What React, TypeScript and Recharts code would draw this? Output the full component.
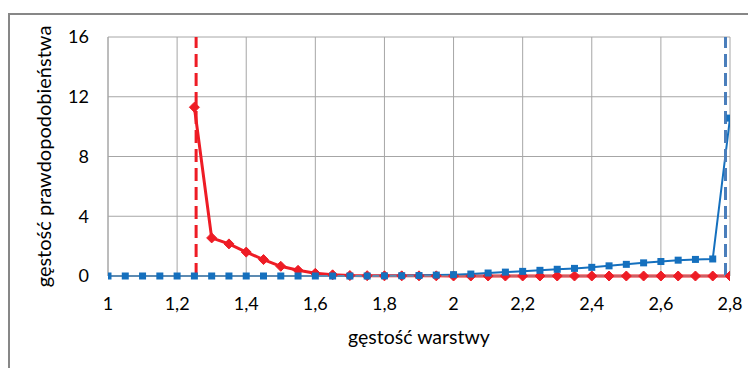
import React from 'react';
import { LineChart, Line, XAxis, YAxis, CartesianGrid, ReferenceLine, Label } from 'recharts';

const xValues = [1, 1.05, 1.1, 1.15, 1.2, 1.25, 1.3, 1.35, 1.4, 1.45, 1.5, 1.55, 1.6, 1.65, 1.7, 1.75, 1.8, 1.85, 1.9, 1.95, 2, 2.05, 2.1, 2.15, 2.2, 2.25, 2.3, 2.35, 2.4, 2.45, 2.5, 2.55, 2.6, 2.65, 2.7, 2.75, 2.8];
const redValues: (number | null)[] = [null, null, null, null, null, 11.3, 2.55, 2.15, 1.6, 1.1, 0.65, 0.38, 0.18, 0.08, 0.03, 0.02, 0.01, 0.01, 0.01, 0.01, 0, 0, 0, 0, 0, 0, 0, 0, 0, 0, 0, 0, 0, 0, 0, 0, 0];
const blueValues = [0, 0, 0, 0, 0, 0, 0, 0, 0, 0, 0, 0, 0, 0, 0, 0, 0.01, 0.02, 0.03, 0.06, 0.09, 0.13, 0.2, 0.26, 0.31, 0.38, 0.45, 0.51, 0.58, 0.68, 0.78, 0.88, 0.97, 1.06, 1.11, 1.14, 10.57];
const xTicks = [1, 1.2, 1.4, 1.6, 1.8, 2, 2.2, 2.4, 2.6, 2.8];
const yTicks = [0, 4, 8, 12, 16];
const redMarkerX = 1.255;
const blueMarkerX = 2.787;

const data = xValues.map((x, i) => ({ x, red: redValues[i], blue: blueValues[i] }));

const RED = '#EE1C25';
const BLUE = '#1570BE';
const BLUE_DASH = '#4A7EBB';
const FONT = 'Lato, "Noto Sans", sans-serif';

const Diamond = (props: any) => {
  const { cx, cy, value } = props;
  if (value == null || cx == null || cy == null) return null;
  const r = 5;
  return <polygon points={`${cx},${cy - r} ${cx + r},${cy} ${cx},${cy + r} ${cx - r},${cy}`} fill={RED} stroke={RED} strokeWidth={1} />;
};

const Square = (props: any) => {
  const { cx, cy, value } = props;
  if (value == null || cx == null || cy == null) return null;
  const s = 7;
  return <rect x={cx - s / 2} y={cy - s / 2} width={s} height={s} fill={BLUE} />;
};

const fmt = (v: number) => String(v).replace('.', ',');

export default function App() {
  return (
    <div style={{ paddingTop: 5 }}>
      <div style={{ borderTop: '2px solid #878787', borderLeft: '2px solid #878787', width: 746, height: 353 }}>
        <LineChart width={746} height={353} data={data} margin={{ top: 22, right: 26, left: 0, bottom: 12 }}>
          <CartesianGrid stroke="#A6A6A6" strokeWidth={1} />
          <XAxis
            dataKey="x"
            type="number"
            domain={[1, 2.8]}
            ticks={xTicks}
            tickFormatter={fmt}
            tickSize={0}
            tickMargin={21}
            height={80}
            axisLine={{ stroke: '#A6A6A6' }}
            tick={{ fill: '#000', fontSize: 18, fontFamily: FONT }}
            interval={0}
            allowDataOverflow
          >
            <Label value="gęstość warstwy" position="insideBottom" offset={12} style={{ fill: '#000', fontSize: 19.5, fontFamily: FONT }} />
          </XAxis>
          <YAxis
            type="number"
            domain={[0, 16]}
            ticks={yTicks}
            tickSize={0}
            tickMargin={19}
            width={98}
            axisLine={{ stroke: '#A6A6A6' }}
            tick={{ fill: '#000', fontSize: 18, fontFamily: FONT }}
            interval={0}
          >
            <Label value="gęstość prawdopodobieństwa" angle={-90} position="insideLeft" offset={34} style={{ textAnchor: 'middle', fill: '#000', fontSize: 20, fontFamily: FONT }} />
          </YAxis>
          <Line dataKey="red" stroke={RED} strokeWidth={3} dot={<Diamond />} activeDot={false} isAnimationActive={false} connectNulls={false} />
          <Line dataKey="blue" stroke={BLUE} strokeWidth={2} dot={<Square />} activeDot={false} isAnimationActive={false} />
          <ReferenceLine x={redMarkerX} stroke={RED} strokeWidth={3} strokeDasharray="13 6" />
          <ReferenceLine x={blueMarkerX} stroke={BLUE_DASH} strokeWidth={3} strokeDasharray="13 6" />
        </LineChart>
      </div>
    </div>
  );
}
